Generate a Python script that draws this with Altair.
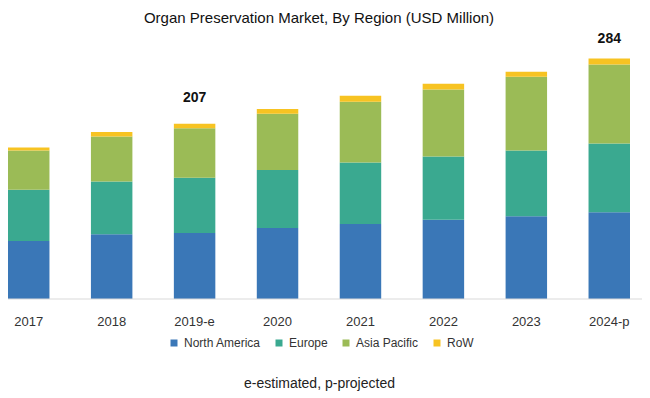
import altair as alt
import pandas as pd

years = ["2017", "2018", "2019-e", "2020", "2021", "2022", "2023", "2024-p"]
regions = ["North America", "Europe", "Asia Pacific", "RoW"]
colors = ["#3a77b7", "#3aa990", "#9bbb56", "#f7c322"]

north_america = [68.6, 76.5, 78.0, 83.9, 88.7, 93.7, 97.8, 102.5]
europe = [60.3, 62.2, 65.3, 68.6, 72.5, 74.5, 77.5, 81.1]
asia_pacific = [46.5, 53.2, 58.5, 66.2, 71.7, 79.2, 87.1, 93.3]
rest_of_world = [3.5, 5.2, 5.2, 5.6, 7.1, 6.7, 5.9, 7.1]

label_years = ["2019-e", "2024-p"]
label_values = [207, 284]

series = [north_america, europe, asia_pacific, rest_of_world]
rows = []
for ri, (name, vals) in enumerate(zip(regions, series)):
    for y, v in zip(years, vals):
        rows.append({"year": y, "region": name, "value": v, "order": ri})
df = pd.DataFrame(rows)

FONT = "Liberation Sans"

x_enc = alt.X(
    "year:N",
    sort=years,
    scale=alt.Scale(paddingInner=0.5, paddingOuter=0),
    axis=alt.Axis(
        title="e-estimated, p-projected",
        titleFont=FONT,
        titleFontSize=14,
        titleFontWeight="normal",
        titleColor="#222222",
        titlePadding=48,
        labelAngle=0,
        labelFont=FONT,
        labelFontSize=13,
        labelColor="#333333",
        labelPadding=16,
        ticks=False,
        tickSize=0,
        domain=False,
        grid=False,
    ),
)

bars = alt.Chart(df).mark_bar().encode(
    x=x_enc,
    y=alt.Y("value:Q", stack="zero", scale=alt.Scale(domain=[0, 300]), axis=None),
    color=alt.Color(
        "region:N",
        scale=alt.Scale(domain=regions, range=colors),
        legend=alt.Legend(
            title=None,
            orient="none",
            direction="horizontal",
            legendX=160,
            legendY=292,
            symbolType="square",
            symbolSize=49,
            symbolStrokeWidth=0,
            labelFont=FONT,
            labelFontSize=12,
            labelColor="#333333",
            labelOffset=4,
            columnPadding=12,
        ),
    ),
    order=alt.Order("order:Q", sort="ascending"),
)

baseline = alt.Chart(pd.DataFrame({"v": [0]})).mark_rule(color="#d9d9d9", strokeWidth=1).encode(
    x=alt.value(-8), x2=alt.value(634), y=alt.datum(0)
)

lab1 = pd.DataFrame({"year": label_years[:1], "value": label_values[:1]})
lab2 = pd.DataFrame({"year": label_years[1:], "value": label_values[1:]})

text1 = alt.Chart(lab1).mark_text(
    font=FONT, fontSize=14, fontWeight="bold", color="#111111", baseline="middle", dy=-26
).encode(x=alt.X("year:N", sort=years), y=alt.Y("value:Q"), text=alt.Text("value:Q"))

text2 = alt.Chart(lab2).mark_text(
    font=FONT, fontSize=14, fontWeight="bold", color="#111111", baseline="middle", dy=-20
).encode(x=alt.X("year:N", sort=years), y=alt.Y("value:Q"), text=alt.Text("value:Q"))

chart = (
    alt.layer(bars, baseline, text1, text2)
    .properties(
        width=622,
        height=254,
        background="white",
        title=alt.TitleParams(
            "Organ Preservation Market, By Region (USD Million)",
            font=FONT,
            fontSize=15,
            fontWeight="normal",
            color="#111111",
            anchor="middle",
            frame="group",
            offset=6,
        ),
        autosize=alt.AutoSizeParams(type="none"),
        padding={"left": 0, "top": 37, "right": 12, "bottom": 93},
    )
    .configure_view(strokeWidth=0, stroke="transparent")
)

chart.save("out.html", embed_options={"renderer": "svg", "actions": False})
